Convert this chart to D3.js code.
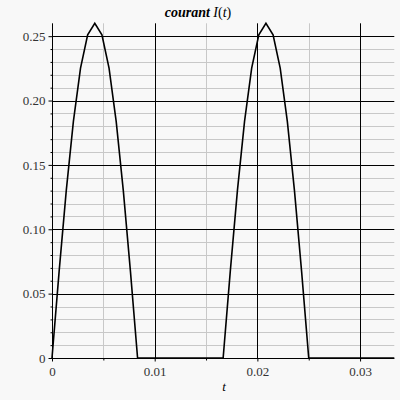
<!DOCTYPE html>
<html><head><meta charset="utf-8">
<script src="https://cdn.jsdelivr.net/npm/d3@7/dist/d3.min.js"></script>
<style>html,body{margin:0;padding:0;background:#f8f8f8;}svg{display:block;}</style>
</head><body>
<script>
// time samples (s), step 1/1440
const times = d3.range(49).map(k => k / 1440);
// current I(t) values
const current = [
  0, 0.0673, 0.13, 0.1838, 0.2252, 0.2511, 0.26, 0.2511, 0.2252, 0.1838, 0.13, 0.0673,
  0, 0, 0, 0, 0, 0, 0, 0, 0, 0, 0, 0,
  0, 0.0673, 0.13, 0.1838, 0.2252, 0.2511, 0.26, 0.2511, 0.2252, 0.1838, 0.13, 0.0673,
  0, 0, 0, 0, 0, 0, 0, 0, 0, 0, 0, 0, 0
];
const xTicks = [0, 0.01, 0.02, 0.03];
const xTickLabels = ["0", "0.01", "0.02", "0.03"];
const yTicks = [0, 0.05, 0.10, 0.15, 0.20, 0.25];
const yTickLabels = ["0", "0.05", "0.10", "0.15", "0.20", "0.25"];
const xMinor = [0.005, 0.015, 0.025];
const yMinor = d3.range(1, 26).map(i => i / 100).filter(v => Math.abs(v * 20 - Math.round(v * 20)) > 1e-6);

const W = 400, H = 400;
const svg = d3.select("body").append("svg").attr("width", W).attr("height", H);
svg.append("rect").attr("width", W).attr("height", H).attr("fill", "#f8f8f8");

const x = d3.scaleLinear().domain([0, 1 / 30]).range([52, 394.3]);
const y = d3.scaleLinear().domain([0, 0.26]).range([358, 23.3]);

const g = svg.append("g");
// minor gridlines
g.selectAll(".ym").data(yMinor).join("line")
  .attr("x1", x(0)).attr("x2", x(1 / 30)).attr("y1", d => Math.round(y(d)) + 0.5).attr("y2", d => Math.round(y(d)) + 0.5)
  .attr("stroke", "#c8c8c8").attr("stroke-width", 1);
g.selectAll(".xm").data(xMinor).join("line")
  .attr("x1", d => Math.round(x(d)) + 0.5).attr("x2", d => Math.round(x(d)) + 0.5).attr("y1", y(0)).attr("y2", y(0.26))
  .attr("stroke", "#c8c8c8").attr("stroke-width", 1);
// major gridlines
g.selectAll(".yM").data(yTicks.slice(1)).join("line")
  .attr("x1", x(0)).attr("x2", x(1 / 30)).attr("y1", d => Math.round(y(d)) + 0.5).attr("y2", d => Math.round(y(d)) + 0.5)
  .attr("stroke", "#000").attr("stroke-width", 1);
g.selectAll(".xM").data(xTicks.slice(1)).join("line")
  .attr("x1", d => Math.round(x(d)) + 0.5).attr("x2", d => Math.round(x(d)) + 0.5).attr("y1", y(0)).attr("y2", y(0.26))
  .attr("stroke", "#000").attr("stroke-width", 1);

// axes
const yAxis = d3.axisLeft(y).tickValues(yTicks).tickFormat((d, i) => yTickLabels[i]).tickSize(4).tickPadding(3);
const yAx = svg.append("g").attr("transform", `translate(${Math.round(x(0)) + 0.5},0)`).call(yAxis);
yAx.select(".domain").attr("d", `M0,${y(0.26)}V${y(0)}`);
const yMinAx = svg.append("g").attr("transform", `translate(${Math.round(x(0)) + 0.5},0)`)
  .call(d3.axisLeft(y).tickValues(yMinor).tickFormat("").tickSize(2));
yMinAx.select(".domain").remove();

const xAxis = d3.axisBottom(x).tickValues(xTicks).tickFormat((d, i) => xTickLabels[i]).tickSize(3).tickPadding(5);
const xAx = svg.append("g").attr("transform", `translate(0,${Math.round(y(0)) + 0.5})`).call(xAxis);
xAx.select(".domain").attr("d", `M${x(0)},0H${x(1 / 30)}`);
const xMinAx = svg.append("g").attr("transform", `translate(0,${Math.round(y(0)) + 0.5})`)
  .call(d3.axisBottom(x).tickValues(xMinor).tickFormat("").tickSize(2));
xMinAx.select(".domain").remove();

svg.selectAll(".tick text").attr("font-family", "Liberation Serif, Times New Roman, serif")
  .attr("font-size", 13).attr("fill", "#333");
svg.selectAll(".domain, .tick line").attr("stroke", "#000");

// curve
const line = d3.line().x((d, i) => x(times[i])).y(d => y(d));
svg.append("path").datum(current).attr("d", line)
  .attr("fill", "none").attr("stroke", "#000").attr("stroke-width", 1.6).attr("stroke-linejoin", "miter");

// title
const title = svg.append("text").attr("x", 198).attr("y", 17).attr("text-anchor", "middle")
  .attr("font-family", "Liberation Serif, Times New Roman, serif").attr("font-size", 14).attr("fill", "#000");
title.append("tspan").attr("font-weight", "bold").attr("font-style", "italic").text("courant ");
title.append("tspan").attr("font-style", "italic").text("I");
title.append("tspan").text("(");
title.append("tspan").attr("font-style", "italic").text("t");
title.append("tspan").text(")");

// x label
svg.append("text").attr("x", 224).attr("y", 391).attr("text-anchor", "middle")
  .attr("font-family", "Liberation Serif, Times New Roman, serif").attr("font-style", "italic")
  .attr("font-size", 13).attr("fill", "#000").text("t");
</script>
</body></html>
